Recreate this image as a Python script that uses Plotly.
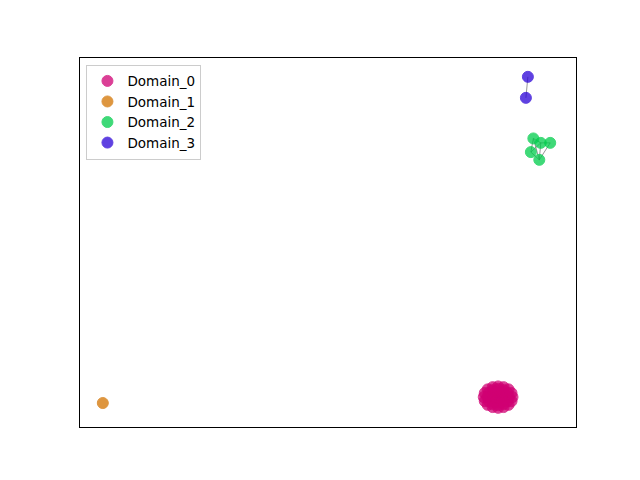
import plotly.graph_objects as go

domains = ["Domain_0", "Domain_1", "Domain_2", "Domain_3"]
colors = ["#D00073", "#D37300", "#00CD4B", "#2A02D7"]

d0_x = [84.3, 85.1, 84.7, 83.9, 83.5, 83.9, 84.7,
        85.8, 85.05, 83.55, 82.8, 83.55, 85.05,
        86.5, 86.2, 85.4, 84.3, 83.2, 82.4, 82.1, 82.4, 83.2, 84.3, 85.4, 86.2,
        87.2, 87.0, 86.4, 85.4, 84.3, 83.2, 82.2, 81.6, 81.4, 81.6, 82.2, 83.2, 84.3, 85.4, 86.4, 87.0]
d0_y = [8.1, 8.1, 8.8, 8.8, 8.1, 7.4, 7.4,
        8.1, 9.4, 9.4, 8.1, 6.8, 6.8,
        8.1, 9.2, 10.0, 10.3, 10.0, 9.2, 8.1, 7.0, 6.2, 5.9, 6.2, 7.0,
        8.1, 9.2, 10.2, 10.8, 11.0, 10.8, 10.2, 9.2, 8.1, 7.0, 6.0, 5.4, 5.2, 5.4, 6.0, 7.0]
d1_x = [4.6]
d1_y = [6.5]
d2_x = [91.4, 92.9, 94.8, 90.9, 92.6]
d2_y = [78.2, 77.0, 77.0, 74.5, 72.4]
d3_x = [90.3, 89.9]
d3_y = [94.9, 89.2]

d0_edges = [(0, 1), (0, 2), (0, 3), (0, 4), (0, 5), (0, 6)]
d2_edges = [(0, 1), (0, 3), (1, 2), (1, 4), (2, 4), (3, 1), (0, 4), (3, 4)]
d3_edges = [(0, 1)]

node_sets = [(d0_x, d0_y, d0_edges), (d1_x, d1_y, []), (d2_x, d2_y, d2_edges), (d3_x, d3_y, d3_edges)]

fig = go.Figure()
for xs, ys, edges in node_sets:
    ex, ey = [], []
    for a, b in edges:
        ex += [xs[a], xs[b], None]
        ey += [ys[a], ys[b], None]
    if ex:
        fig.add_trace(go.Scatter(x=ex, y=ey, mode="lines", showlegend=False, hoverinfo="skip",
                                 line=dict(color="rgba(80,80,80,0.6)", width=1)))

for name, col, (xs, ys, _) in zip(domains, colors, node_sets):
    fig.add_trace(go.Scatter(x=xs, y=ys, mode="markers", name=name,
                             marker=dict(size=11, color=col, opacity=0.75,
                                         line=dict(width=1, color=col))))

fig.update_layout(
    width=632, height=472,
    margin=dict(l=72, r=64, t=50, b=53),
    paper_bgcolor="white", plot_bgcolor="white",
    font=dict(family="DejaVu Sans", size=13, color="black"),
    legend=dict(x=0.013, y=0.982, xanchor="left", yanchor="top",
                bordercolor="#cccccc", borderwidth=1, bgcolor="rgba(255,255,255,0.8)",
                font=dict(size=13.5), itemsizing="trace", tracegroupgap=0),
    showlegend=True,
)
fig.update_xaxes(range=[0, 100], showticklabels=False, ticks="", showgrid=False, zeroline=False,
                 showline=True, linecolor="black", linewidth=1, mirror=True)
fig.update_yaxes(range=[0, 100], showticklabels=False, ticks="", showgrid=False, zeroline=False,
                 showline=True, linecolor="black", linewidth=1, mirror=True)

fig.write_html("out.html")
